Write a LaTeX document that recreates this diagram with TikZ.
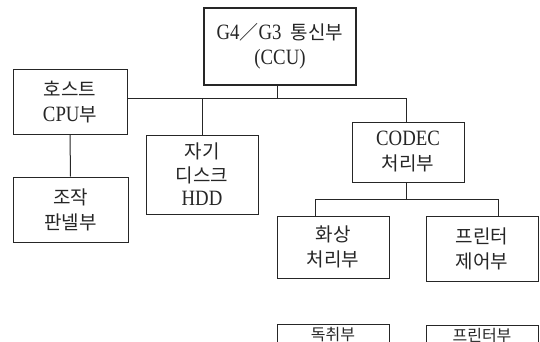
\documentclass[tikz,border=0pt]{standalone}
\usepackage{fontspec}
\setmainfont{Liberation Serif}[FakeStretch=0.86, Scale=1.15]
\newfontfamily\kr{Noto Sans CJK KR}
\begin{document}
\begin{tikzpicture}[x=1pt,y=-1pt,
  box/.style={draw=black!85, line width=1pt, rectangle, align=center, inner sep=0pt,
    font=\fontsize{19}{25}\selectfont, text=black!85},
  cutbox/.style={box, font=\fontsize{16}{20}\selectfont, minimum height=41pt, text height=13pt, text depth=21pt},
  wire/.style={draw=black!85, line width=1pt}]
\useasboundingbox (0,0) rectangle (540,342);
\fill[white] (0,0) rectangle (540,342);
\begin{scope}
\clip (0,0) rectangle (540,342);
\node[box, line width=1.8pt, minimum width=152pt, minimum height=77pt] (ccu) at (280,46.5) {G4{\kr ／}G3\ \ {\kr 통신부}\\(CCU)};
\node[box, minimum width=114pt, minimum height=64pt] (host) at (70,102) {{\kr 호스트}\\CPU{\kr 부}};
\node[box, minimum width=115pt, minimum height=65pt] (panel) at (70.5,209.5) {{\kr 조작}\\{\kr 판넬부}};
\node[box, minimum width=112pt, minimum height=79pt, font=\fontsize{19}{23.5}\selectfont] (hdd) at (202,174.5) {{\kr 자기}\\{\kr 디스크}\\HDD};
\node[box, minimum width=112pt, minimum height=60pt] (codec) at (408,152) {CODEC\\{\kr 처리부}};
\node[box, minimum width=112pt, minimum height=62pt] (img) at (333,247) {{\kr 화상}\\{\kr 처리부}};
\node[box, minimum width=112pt, minimum height=65pt] (pctl) at (482,248.5) {{\kr 프린터}\\{\kr 제어부}};
\node[cutbox, minimum width=112pt] (scan) at (333,344.5) {{\kr 독취부}};
\node[cutbox, minimum width=112pt] (prn) at (482,345.5) {{\kr 프린터부}};

\coordinate (j1) at (277,99);
\coordinate (j2) at (406,99);
\coordinate (j3) at (406,199);
\coordinate (jl) at (315,199);
\coordinate (jr) at (498,199);

\draw[wire] (ccu.south -| j1) -- (j1);
\draw[wire] (host.east |- j1) -- (j2) -- (codec.north -| j2);
\draw[wire] (hdd.north |- j1) -- (hdd.north);
\draw[wire] (host.south) -- (panel.north);
\draw[wire] (codec.south -| j3) -- (j3);
\draw[wire] (img.north -| jl) -- (jl) -- (jr) -- (pctl.north -| jr);
\end{scope}
\end{tikzpicture}
\end{document}
